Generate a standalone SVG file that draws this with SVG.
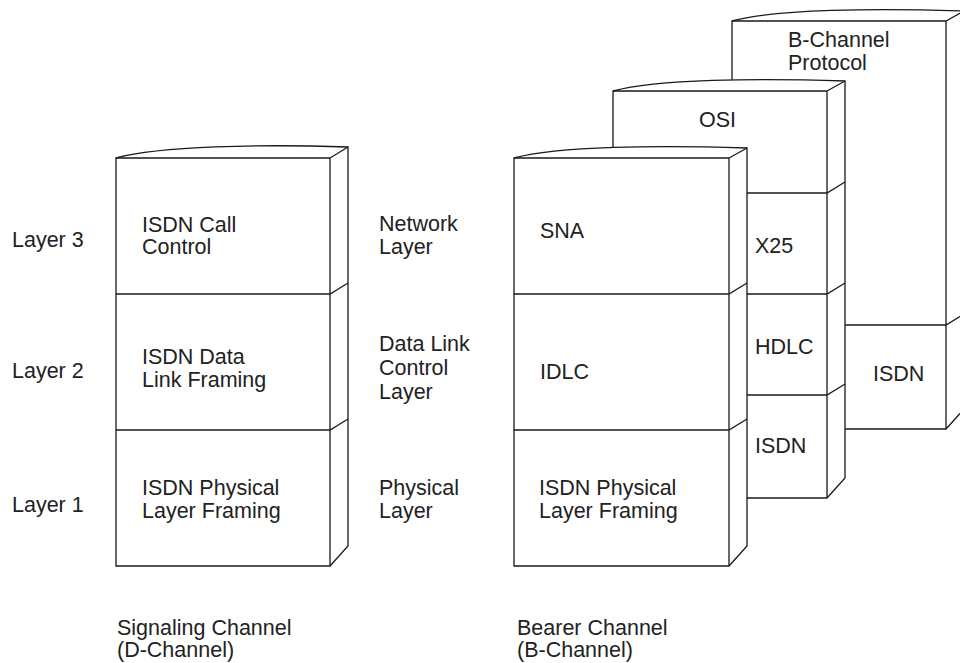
<svg xmlns="http://www.w3.org/2000/svg" width="960" height="663" viewBox="0 0 960 663">
<style>
.sil{fill:#fff;stroke:#1a1a1a;stroke-width:1.3;stroke-linejoin:miter}
.ln{fill:none;stroke:#1a1a1a;stroke-width:1.3}
text{font-family:"Liberation Sans",Arial,Helvetica,sans-serif;font-size:21.5px;fill:#222}
</style>
<rect width="960" height="663" fill="#fff"/>

<g id="b-channel-protocol-stack">
  <path class="sil" d="M732,21 C776,9 876,8 964,11 L964,409 L946,429 L732,429 Z"/>
  <path class="ln" d="M732,21 H946 V429 M946,21 L964,11 M732,325 H946 L964,314"/>
  <g id="b-protocol"><text x="788" y="47">B-Channel</text><text x="788" y="70">Protocol</text></g>
  <g id="b-isdn"><text x="873" y="381">ISDN</text></g>
</g>

<g id="osi-stack">
  <path class="sil" d="M613,91 C657,79 757,78 845,81 L845,478 L827,498 L613,498 Z"/>
  <path class="ln" d="M613,91 H827 V498 M827,91 L845,81 M613,193 H827 L845,182 M613,294 H827 L845,283 M613,395 H827 L845,384"/>
  <g id="osi"><text x="699" y="127">OSI</text></g>
  <g id="x25"><text x="755" y="253">X25</text></g>
  <g id="hdlc"><text x="755" y="354">HDLC</text></g>
  <g id="osi-isdn"><text x="755" y="453">ISDN</text></g>
</g>

<g id="bearer-stack">
  <path class="sil" d="M514,158 C558,146 658,145 747,148 L747,546 L729,566 L514,566 Z"/>
  <path class="ln" d="M514,158 H729 V566 M729,158 L747,148 M514,294 H729 L747,283 M514,430 H729 L747,419"/>
  <g id="sna"><text x="540" y="238">SNA</text></g>
  <g id="idlc"><text x="540" y="379">IDLC</text></g>
  <g id="bearer-phys"><text x="539" y="495">ISDN Physical</text><text x="539" y="518">Layer Framing</text></g>
</g>

<g id="signaling-stack">
  <path class="sil" d="M116,158 C160,146 260,144 348,147 L348,546 L330,566 L116,566 Z"/>
  <path class="ln" d="M116,158 H330 V566 M330,158 L348,147 M116,294 H330 L348,283 M116,430 H330 L348,419"/>
  <g id="isdn-call"><text x="142" y="232">ISDN Call</text><text x="142" y="254">Control</text></g>
  <g id="isdn-data"><text x="142" y="364">ISDN Data</text><text x="142" y="387">Link Framing</text></g>
  <g id="isdn-phys"><text x="142" y="495">ISDN Physical</text><text x="142" y="518">Layer Framing</text></g>
</g>

<g id="labels">
  <text x="12" y="247">Layer 3</text>
  <text x="12" y="378">Layer 2</text>
  <text x="12" y="512">Layer 1</text>
  <text x="379" y="231">Network</text><text x="379" y="254">Layer</text>
  <text x="379" y="351">Data Link</text><text x="379" y="375">Control</text><text x="379" y="399">Layer</text>
  <text x="379" y="495">Physical</text><text x="379" y="518">Layer</text>
  <text x="117" y="635">Signaling Channel</text><text x="117" y="657">(D-Channel)</text>
  <text x="517" y="635">Bearer Channel</text><text x="517" y="657">(B-Channel)</text>
</g>
</svg>
